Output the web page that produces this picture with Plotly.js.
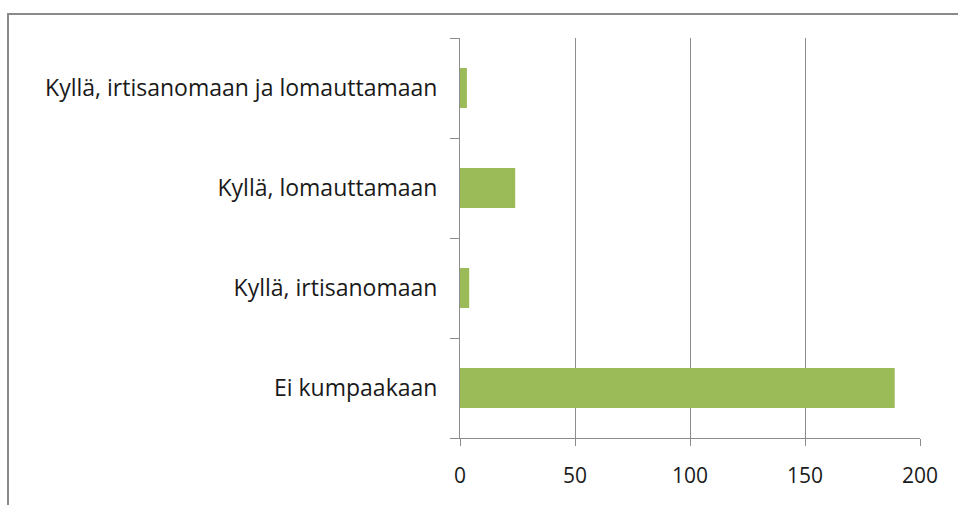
<!DOCTYPE html>
<html>
<head>
<meta charset="utf-8">
<script src="https://cdn.plot.ly/plotly-3.0.1.min.js"></script>
<style>html,body{margin:0;padding:0;background:#fff;}#chart{width:958px;height:505px;}</style>
</head>
<body>
<div id="chart"></div>
<script>
const categories = ["Ei kumpaakaan", "Kyllä, irtisanomaan", "Kyllä, lomauttamaan", "Kyllä, irtisanomaan ja lomauttamaan"];
const values = [189, 4, 24, 3];
const xTicks = [0, 50, 100, 150, 200];

const trace = {
  type: "bar",
  orientation: "h",
  y: categories,
  x: values,
  marker: {color: "#9bbb59"},
  hoverinfo: "x+y"
};

const layout = {
  width: 958,
  height: 505,
  margin: {l: 460, r: 38, t: 38, b: 67},
  paper_bgcolor: "#ffffff",
  plot_bgcolor: "#ffffff",
  showlegend: false,
  bargap: 0.6,
  font: {family: "Open Sans, Liberation Sans, sans-serif", size: 16, color: "#000000"},
  xaxis: {
    range: [0, 200],
    tickvals: xTicks,
    ticktext: xTicks.map(String),
    showgrid: true,
    gridcolor: "#8c8c8c",
    gridwidth: 1,
    zeroline: false,
    showline: true,
    linecolor: "#8c8c8c",
    linewidth: 1,
    ticks: "outside",
    ticklen: 7,
    tickcolor: "#8c8c8c",
    tickfont: {size: 21, color: "#1a1a1a"},
    ticklabelstandoff: 12,
    fixedrange: true
  },
  yaxis: {
    type: "category",
    categoryorder: "array",
    categoryarray: categories,
    range: [-0.5, 3.5],
    showgrid: false,
    zeroline: false,
    showline: true,
    linecolor: "#8c8c8c",
    linewidth: 1,
    ticks: "outside",
    tickson: "boundaries",
    ticklen: 9,
    tickcolor: "#8c8c8c",
    tickfont: {size: 23, color: "#1a1a1a"},
    ticklabelstandoff: 17,
    fixedrange: true
  },
  shapes: [{
    type: "rect",
    xref: "paper", yref: "paper",
    x0: -0.9826, x1: 2,
    y0: -1, y1: 1.06,
    line: {color: "#8a8a8a", width: 2},
    fillcolor: "rgba(0,0,0,0)",
    layer: "below"
  }]
};

Plotly.newPlot("chart", [trace], layout, {displayModeBar: false, staticPlot: true});
</script>
</body>
</html>
